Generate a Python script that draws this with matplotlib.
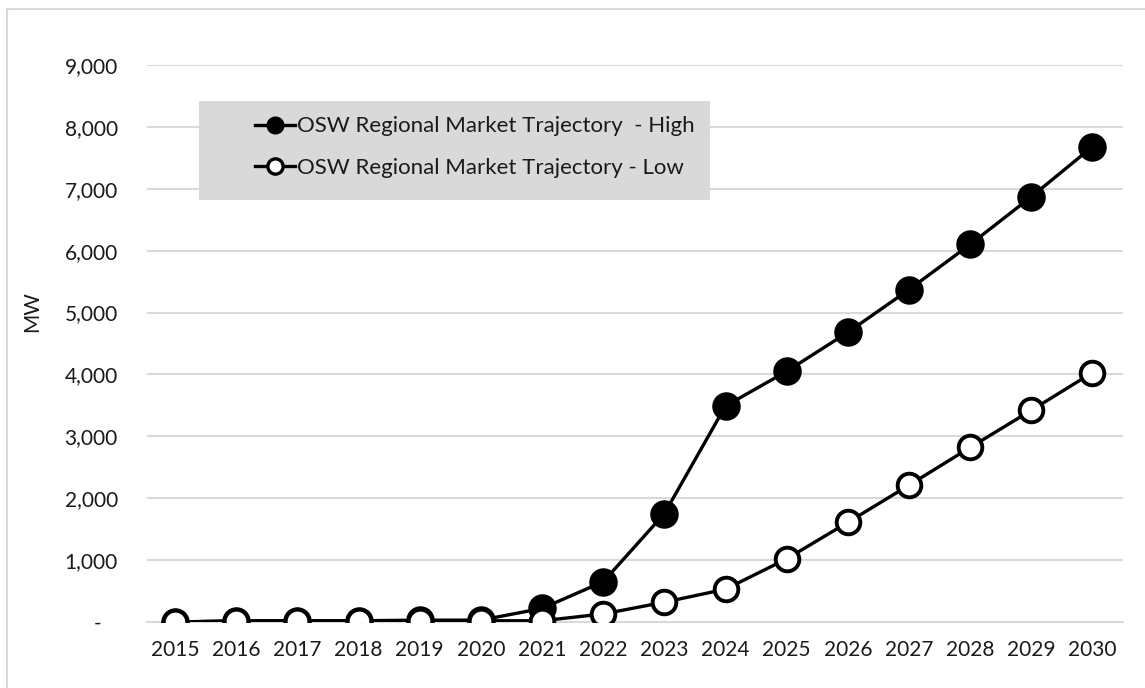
import matplotlib
matplotlib.use("Agg")
import matplotlib.pyplot as plt
from matplotlib.lines import Line2D

# ============== data =============
years = list(range(2015, 2031))
high = [0, 20, 20, 20, 30, 30, 220, 650, 1750, 3490, 4050, 4680, 5370, 6100, 6870, 7680]
low = [0, 15, 15, 15, 20, 20, 20, 130, 320, 530, 1020, 1610, 2210, 2820, 3420, 4030]

yticks = list(range(0, 10000, 1000))
ytick_labels = ["-   "] + [f"{v:,}" for v in yticks[1:]]

HIGH_LABEL = "OSW Regional Market Trajectory  - High"
LOW_LABEL = "OSW Regional Market Trajectory - Low"

# ============== style =============
GRID_COLOR = "#d9d9d9"
LEGEND_BG = "#d9d9d9"
TEXT_COLOR = "#1a1a1a"
FS = 15
plt.rcParams["font.family"] = ["Lato", "DejaVu Sans"]

W, H = 1145, 688
fig = plt.figure(figsize=(W / 100, H / 100), dpi=100)

# 绘图区位置（像素换算）
AX_L, AX_R, AX_T, AX_B = 147, 1123, 65, 622
ax = fig.add_axes([AX_L / W, 1 - AX_B / H, (AX_R - AX_L) / W, (AX_B - AX_T) / H])

x = list(range(len(years)))
ax.plot(x, high, color="black", linewidth=2.4, marker="o", markersize=18,
        markerfacecolor="black", markeredgecolor="black", markeredgewidth=2.5, zorder=3)
ax.plot(x, low, color="black", linewidth=2.4, marker="o", markersize=17,
        markerfacecolor="white", markeredgecolor="black", markeredgewidth=2.8, zorder=4)

ax.set_xlim(-0.46, len(years) - 0.5)
ax.set_ylim(0, 9000)
ax.set_xticks(x)
ax.set_xticklabels([str(y) for y in years], fontsize=FS, color=TEXT_COLOR)
ax.set_yticks(yticks)
ax.set_yticklabels(ytick_labels, fontsize=FS, color=TEXT_COLOR)
ax.tick_params(axis="both", length=0)
ax.tick_params(axis="x", pad=13)
ax.tick_params(axis="y", pad=21)

ax.yaxis.grid(True, color=GRID_COLOR, linewidth=1.5)
ax.set_axisbelow(True)
for side in ["top", "right", "left"]:
    ax.spines[side].set_visible(False)
ax.spines["bottom"].set_color(GRID_COLOR)
ax.spines["bottom"].set_linewidth(1.5)

ax.set_ylabel("MW", fontsize=FS, color=TEXT_COLOR)
ax.yaxis.set_label_coords((42 - AX_L) / (AX_R - AX_L), (AX_B - 312) / (AX_B - AX_T))

# 图例：灰色背景框
aw, ah = AX_R - AX_L, AX_B - AX_T
bg = plt.Rectangle(((199 - AX_L) / aw, (AX_B - 200) / ah), (710 - 199) / aw, (200 - 101) / ah,
                   transform=ax.transAxes, facecolor=LEGEND_BG, edgecolor="none", zorder=5)
ax.add_patch(bg)
handles = [
    Line2D([], [], color="black", linewidth=2.4, marker="o", markersize=11,
           markerfacecolor="black", markeredgecolor="black", markeredgewidth=2),
    Line2D([], [], color="black", linewidth=2.4, marker="o", markersize=11,
           markerfacecolor="white", markeredgecolor="black", markeredgewidth=2.4),
]
leg = ax.legend(handles, [HIGH_LABEL, LOW_LABEL], loc="center",
                bbox_to_anchor=((475 - AX_L) / aw, (AX_B - 147) / ah),
                frameon=False, fontsize=FS + 1, handlelength=1.8, handletextpad=0.1,
                labelspacing=0.95)
leg.set_zorder(6)
for t in leg.get_texts():
    t.set_color(TEXT_COLOR)

# 外框
fig.add_artist(Line2D([7 / W, 7 / W], [0, 1 - 9 / H], color=GRID_COLOR, linewidth=1.5))
fig.add_artist(Line2D([7 / W, 1], [1 - 9 / H, 1 - 9 / H], color=GRID_COLOR, linewidth=1.5))

fig.savefig("out.png", dpi=100)
